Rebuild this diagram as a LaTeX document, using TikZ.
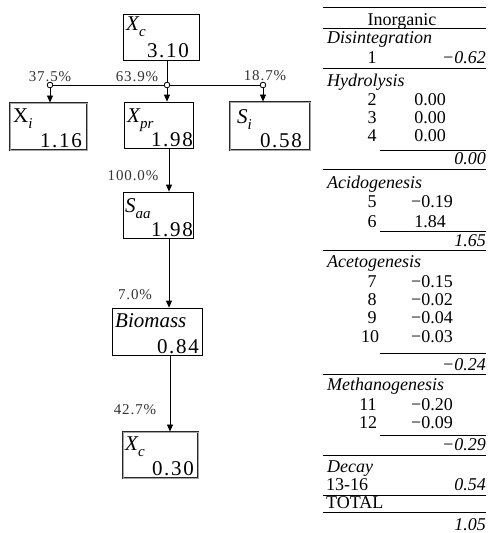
\documentclass[tikz,border=0pt]{standalone}
\usepackage{fontspec}
\setmainfont{Liberation Serif}
\newfontfamily\numfont[LetterSpace=8]{Liberation Serif}
\newfontfamily\pctfont[LetterSpace=6]{Liberation Serif}
\usetikzlibrary{arrows.meta}
\newcommand{\blab}[2]{{\fontsize{21}{21}\selectfont #1\raisebox{-6pt}{\fontsize{15}{15}\selectfont\itshape #2}}}
\tikzset{
  sbox/.style={draw=black, line width=0.8pt, inner sep=0pt},
  dbox/.style={draw=black!85, line width=0.9pt, double=black!35, double distance=0.7pt, inner sep=0pt},
  conn/.style={line width=0.8pt},
  arr/.style={line width=0.8pt, -{Triangle[length=7pt,width=6pt]}},
  junc/.style={circle, draw=black, line width=0.7pt, fill=white, inner sep=0pt, minimum size=5.5pt},
  pct/.style={font=\pctfont\fontsize{15}{15}\selectfont, text=black!80, inner sep=0pt},
  lab/.style={anchor=base west, inner sep=0pt},
  num/.style={anchor=base east, inner sep=0pt, font=\numfont\fontsize{21}{21}\selectfont},
  tab/.style={inner sep=0pt, font=\fontsize{18}{18}\selectfont},
  tabit/.style={inner sep=0pt, font=\fontsize{18}{18}\selectfont\itshape},
  rule/.style={line width=0.9pt}
}
\begin{document}
\begin{tikzpicture}[x=1pt,y=-1pt]
\useasboundingbox (0,0) rectangle (488,533);
% boxes
\node[sbox, minimum width=76pt, minimum height=46pt] (xc) at (161,37) {};
\node[dbox, minimum width=77pt, minimum height=47pt] (xi) at (48.5,126.5) {};
\node[sbox, minimum width=69pt, minimum height=46pt] (xpr) at (158.5,125) {};
\node[dbox, minimum width=80pt, minimum height=48pt] (si) at (270,126) {};
\node[sbox, minimum width=70pt, minimum height=46pt] (saa) at (158,215) {};
\node[sbox, minimum width=90pt, minimum height=47pt] (bio) at (157,331.5) {};
\node[dbox, minimum width=75pt, minimum height=46pt] (xc2) at (160.5,455) {};
% box texts
\node[lab] (xcl) at (126,30) {\blab{\itshape X}{c}};
\node[num] (xcn) at (189,57) {3.10};
\node[lab] (xil) at (13,122) {\blab{X}{i}};
\node[num] (xin) at (82,147) {1.16};
\node[lab] (xprl) at (127,122) {\blab{\itshape X}{pr}};
\node[num] (xprn) at (193,146) {1.98};
\node[lab] (sil) at (237,123) {\blab{\itshape S}{i}};
\node[num] (sin) at (302,147) {0.58};
\node[lab] (saal) at (125,212) {\blab{\itshape S}{aa}};
\node[num] (saan) at (193,236) {1.98};
\node[lab, font=\fontsize{21}{21}\selectfont\itshape] (biol) at (115,327) {Biomass};
\node[num] (bion) at (199,353) {0.84};
\node[lab] (xc2l) at (125,450) {\blab{\itshape X}{c}};
\node[num] (xc2n) at (194,475) {0.30};
% junctions and connectors
\node[junc] (j1) at (50,85) {};
\node[junc] (j2) at (167,85) {};
\node[junc] (j3) at (263,85) {};
\draw[conn] (j1) -- (j3);
\draw[conn] (xc.south -| j2) -- (j2);
\node[junc] at (j1) {};
\node[junc] at (j2) {};
\node[junc] at (j3) {};
\draw[arr] (j1.south) -- (j1 |- xi.north);
\draw[arr] (j2.south) -- (j2 |- xpr.north);
\draw[arr] (j3.south) -- (j3 |- si.north);
\draw[arr] ([xshift=10.5pt]xpr.south) -- ([xshift=11pt]saa.north);
\draw[arr] ([xshift=11pt]saa.south) -- ([xshift=12pt]bio.north);
\draw[arr] ([xshift=13pt]bio.south) -- ([xshift=9.5pt]xc2.north);
% percentages
\node[pct] (p1) at (50,77) {37.5\%};
\node[pct] (p2) at (137,77) {63.9\%};
\node[pct] (p3) at (265,76) {18.7\%};
\node[pct] (p4) at (133,176) {100.0\%};
\node[pct] (p5) at (135,295) {7.0\%};
\node[pct] (p6) at (135,410) {42.7\%};
% table rules
\draw[rule] (323,7) -- (486,7);
\draw[rule] (323,28) -- (486,28);
\draw[rule] (323,68) -- (486,68);
\draw[rule] (380,150) -- (486,150);
\draw[rule] (323,169) -- (486,169);
\draw[rule] (380,231) -- (486,231);
\draw[rule] (323,250) -- (486,250);
\draw[rule] (380,353) -- (486,353);
\draw[rule] (323,374) -- (486,374);
\draw[rule] (380,435) -- (486,435);
\draw[rule] (323,455) -- (486,455);
\draw[rule] (323,495) -- (486,495);
\draw[rule] (323,512) -- (486,512);
% table text
\node[tab, anchor=base] (t0) at (402,25) {Inorganic};
\node[tabit, anchor=base west] (h1) at (327,43) {Disintegration};
\node[tab, anchor=base] (r1) at (372,63) {1};
\node[tabit, anchor=base east] (v1) at (486,63) {−0.62};
\node[tabit, anchor=base west] (h2) at (327,86) {Hydrolysis};
\node[tab, anchor=base] (r2) at (372,105) {2};
\node[tab, anchor=base] (v2) at (430,105) {0.00};
\node[tab, anchor=base] (r3) at (372,123) {3};
\node[tab, anchor=base] (v3) at (430,123) {0.00};
\node[tab, anchor=base] (r4) at (372,141) {4};
\node[tab, anchor=base] (v4) at (430,141) {0.00};
\node[tabit, anchor=base east] (s2) at (486,164) {0.00};
\node[tabit, anchor=base west] (h3) at (327,188) {Acidogenesis};
\node[tab, anchor=base] (r5) at (372,207) {5};
\node[tab, anchor=base] (v5) at (432,207) {−0.19};
\node[tab, anchor=base] (r6) at (372,227) {6};
\node[tab, anchor=base] (v6) at (430,227) {1.84};
\node[tabit, anchor=base east] (s3) at (486,246) {1.65};
\node[tabit, anchor=base west] (h4) at (327,267) {Acetogenesis};
\node[tab, anchor=base] (r7) at (372,287) {7};
\node[tab, anchor=base] (v7) at (432,287) {−0.15};
\node[tab, anchor=base] (r8) at (372,305) {8};
\node[tab, anchor=base] (v8) at (432,305) {−0.02};
\node[tab, anchor=base] (r9) at (372,323) {9};
\node[tab, anchor=base] (v9) at (432,323) {−0.04};
\node[tab, anchor=base] (r10) at (370,342) {10};
\node[tab, anchor=base] (v10) at (432,342) {−0.03};
\node[tabit, anchor=base east] (s4) at (486,370) {−0.24};
\node[tabit, anchor=base west] (h5) at (327,390) {Methanogenesis};
\node[tab, anchor=base] (r11) at (368,410) {11};
\node[tab, anchor=base] (v11) at (432,410) {−0.20};
\node[tab, anchor=base] (r12) at (368,428) {12};
\node[tab, anchor=base] (v12) at (432,428) {−0.09};
\node[tabit, anchor=base east] (s5) at (486,450) {−0.29};
\node[tabit, anchor=base west] (h6) at (327,472) {Decay};
\node[tab, anchor=base west] (r13) at (326,490) {13-16};
\node[tabit, anchor=base east] (s6) at (486,490) {0.54};
\node[tab, anchor=base west] (tot) at (326,508) {TOTAL};
\node[tabit, anchor=base east] (s7) at (486,530) {1.05};
\end{tikzpicture}
\end{document}
